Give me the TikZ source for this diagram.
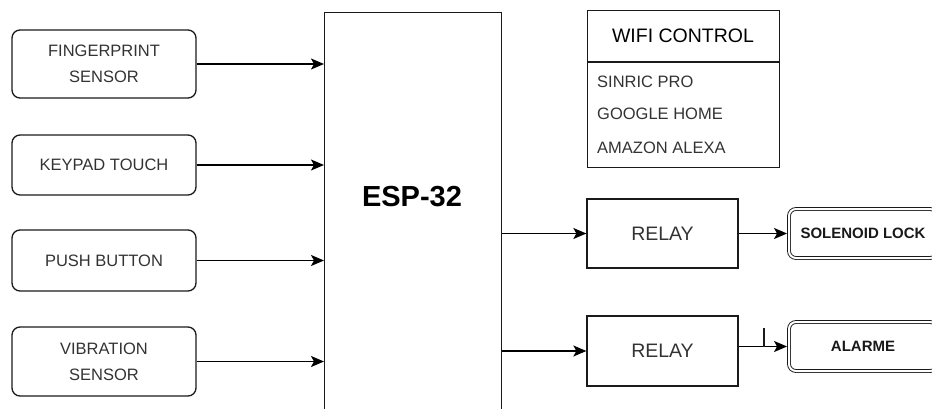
\documentclass[tikz,border=0pt]{standalone}
\usepackage{fontspec}
\setmainfont{Liberation Sans}
\usetikzlibrary{arrows.meta,calc}
\definecolor{txt}{HTML}{333333}
\definecolor{edge}{HTML}{1A1A1A}
\tikzset{
 inbox/.style={draw=edge, line width=1.3pt, rounded corners=8pt, minimum width=184pt, align=center, text=txt, font=\fontsize{16.5}{26}\selectfont, inner sep=0pt},
 relaybox/.style={draw=edge, line width=1.3pt, minimum width=151pt, minimum height=69pt, text=txt, font=\fontsize{19.5}{22}\selectfont},
 outbox/.style={draw=edge, line width=0.9pt, double=white, double distance=2pt, rounded corners=7pt, minimum width=148pt, minimum height=49pt, font=\bfseries\fontsize{15}{18}\selectfont, text=black!90},
 conn/.style={draw=black, line width=1.4pt, -{Stealth[length=13pt,width=11pt,inset=3pt]}},
 item/.style={anchor=west, text=txt, font=\fontsize{16.5}{20}\selectfont, inner sep=0pt},
 plainbox/.style={draw=edge, line width=1.3pt, inner sep=0pt, anchor=north west},
}
\begin{document}
\begin{tikzpicture}[x=1pt,y=-1pt]
\useasboundingbox (0,0) rectangle (932,409);
\clip (0,0) rectangle (932,409);
% inputs
\node[inbox, minimum height=68pt] (fp) at (104,64) {FINGERPRINT\\SENSOR};
\node[inbox, minimum height=60pt] (kp) at (104,165) {KEYPAD TOUCH};
\node[inbox, minimum height=61pt] (pb) at (104,260.5) {PUSH BUTTON};
\node[inbox, minimum height=69pt] (vs) at (104,361.5) {VIBRATION\\SENSOR};
% ESP
\node[plainbox, minimum width=177pt, minimum height=420pt] (esp) at (324,12) {};
\node[font=\bfseries\fontsize{29}{30}\selectfont] (esplabel) at (412,197) {ESP-32};
\draw[conn] (fp.east) -- (fp.east -| esp.west);
\draw[conn] (kp.east) -- (kp.east -| esp.west);
\draw[conn] (pb.east) -- (pb.east -| esp.west);
\draw[conn] (vs.east) -- (vs.east -| esp.west);
% wifi control
\node[plainbox, minimum width=192pt, minimum height=157pt] (wifi) at (587,10) {};
\coordinate (div) at (0,62);
\draw[draw=edge, line width=1.3pt] (wifi.west |- div) -- (wifi.east |- div);
\node[font=\fontsize{19.5}{22}\selectfont, text=black] (wifititle) at (683,36) {WIFI CONTROL};
\node[item] (sinric) at (597,82) {SINRIC PRO};
\node[item] (google) at (597,114) {GOOGLE HOME};
\node[item] (alexa) at (597,148) {AMAZON ALEXA};
% relays
\node[relaybox] (relay1) at (662.5,233.5) {RELAY};
\node[relaybox, minimum height=70pt] (relay2) at (662.5,351) {RELAY};
\draw[conn] (esp.east |- relay1.west) -- (relay1.west);
\draw[conn] (esp.east |- relay2.west) -- (relay2.west);
% outputs
\node[outbox] (sol) at (863,233.5) {SOLENOID LOCK};
\node[outbox] (alarme) at (863,346.5) {ALARME};
\draw[conn, shorten >=1.5pt] (relay1.east |- sol.west) -- (sol.west);
\draw[conn, shorten >=1.5pt] (relay2.east |- alarme.west) -- (alarme.west);
\coordinate (tick) at (764,328);
\draw[draw=edge, line width=1.2pt] (tick) -- (tick |- alarme.west);
\end{tikzpicture}
\end{document}
